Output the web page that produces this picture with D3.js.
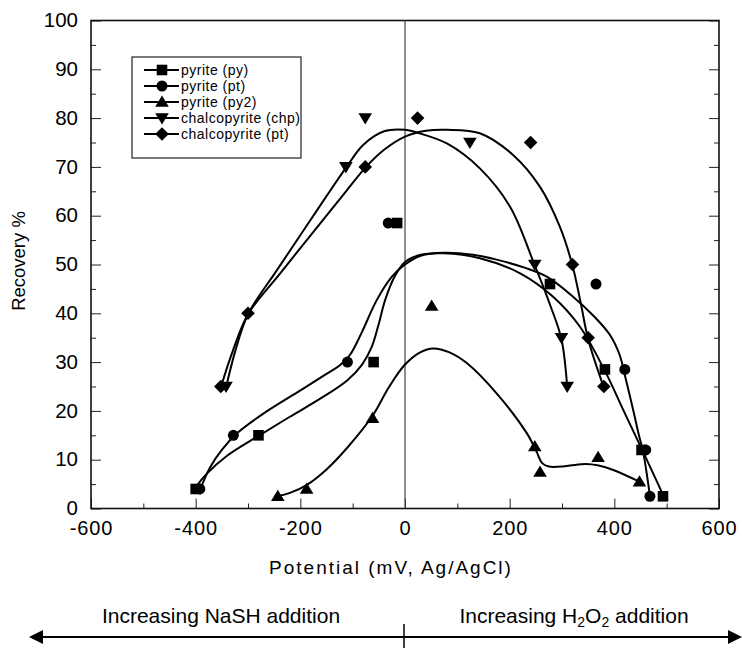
<!DOCTYPE html>
<html>
<head>
<meta charset="utf-8">
<script src="https://cdn.jsdelivr.net/npm/d3@7"></script>
<style>
  body { margin: 0; background: #fff; }
  svg { display: block; font-family: "Liberation Sans", Arial, sans-serif; }
</style>
</head>
<body>
<svg id="chart" width="742" height="648"></svg>
<script>
const X_TICKS = [-600, -400, -200, 0, 200, 400, 600];
const Y_TICKS = [0, 10, 20, 30, 40, 50, 60, 70, 80, 90, 100];

const LEGEND_LABELS = ['pyrite (py)', 'pyrite (pt)', 'pyrite (py2)', 'chalcopyrite (chp)', 'chalcopyrite (pt)'];
const SHAPES = ['square', 'circle', 'up', 'down', 'diamond'];

// measured points
const pyPts = [[-400, 4], [-280, 15], [-60, 30], [-15, 58.5], [277, 46], [382, 28.5], [452, 12], [493, 2.5]];
const ptPts = [[-392, 4], [-328, 15], [-110, 30], [-32, 58.5], [365, 46], [420, 28.5], [460, 12], [468, 2.5]];
const py2Pts = [[-243, 2.5], [-188, 4], [-62, 18.5], [51, 41.5], [248, 12.7], [258, 7.5], [369, 10.5], [448, 5.5]];
const chpPts = [[-342, 25], [-113, 70], [-76, 80], [124, 75], [248, 50], [299, 35], [310, 25]];
const cptPts = [[-352, 25], [-300, 40], [-76, 70], [24, 80], [240, 75], [320, 50], [350, 35], [380, 25]];

// smoothed curves
const pyFit = [[-404, 3.8], [-380, 7], [-340, 10.8], [-278, 15], [-220, 18.8], [-162, 22.5], [-110, 26.3], [-82, 29.5], [-64, 33], [-51, 37.5], [-38, 42.7], [-20, 47.5], [0, 50.5], [30, 52], [73, 52.3], [143, 51.3], [220, 48.2], [283, 43.4], [334, 37.3], [382, 28.2], [417, 20.2], [455, 11.6], [494, 2.6]];
const ptFit = [[-392, 3.8], [-372, 8.5], [-350, 12], [-320, 15.5], [-270, 19.5], [-200, 24.2], [-150, 27.6], [-125, 29.3], [-105, 31.5], [-83, 36], [-54, 42.7], [-25, 47.5], [0, 50], [30, 51.8], [73, 52.4], [130, 52], [175, 51], [230, 49.3], [271, 47.5], [320, 43.5], [360, 39.5], [392, 35.5], [410, 31.5], [422, 26.5], [436, 20.2], [447, 15], [455, 11.6], [468, 2.6]];
const py2Fit = [[-250, 2.4], [-220, 3.2], [-188, 4.8], [-150, 8], [-110, 12.5], [-62, 19], [-30, 25], [0, 29.5], [29, 32], [54, 32.8], [85, 32], [118, 29.8], [175, 23.6], [233, 15.4], [252, 11.5], [262, 9.3], [275, 8.6], [309, 8.7], [345, 9.1], [370, 8.8], [398, 7.9], [448, 5.5]];
const chpFit = [[-342, 24.8], [-325, 32], [-300, 39.8], [-245, 48.8], [-195, 56.8], [-150, 64], [-113, 69.8], [-80, 74.5], [-40, 77.3], [0, 77.6], [24, 77], [80, 74.8], [143, 69.7], [201, 61.8], [248, 49.8], [278, 41.5], [299, 34.7], [310, 24.8]];
const cptFit = [[-352, 24.8], [-330, 32], [-300, 39.8], [-240, 48], [-180, 56], [-120, 64], [-76, 69.8], [-40, 73.5], [0, 76.2], [40, 77.4], [80, 77.6], [143, 76.9], [207, 72.4], [258, 65.9], [296, 57.7], [320, 49.8], [336, 42], [350, 34.7], [380, 24.8]];

const SERIES = [
  { pts: pyPts, fit: pyFit, shape: 'square' },
  { pts: ptPts, fit: ptFit, shape: 'circle' },
  { pts: py2Pts, fit: py2Fit, shape: 'up' },
  { pts: chpPts, fit: chpFit, shape: 'down' },
  { pts: cptPts, fit: cptFit, shape: 'diamond' }
];

const LEFT = 91, RIGHT = 719, TOP = 20.5, BOTTOM = 508.5;

const svg = d3.select('#chart');

const x = d3.scaleLinear().domain([-600, 600]).range([LEFT, RIGHT]);
const y = d3.scaleLinear().domain([0, 100]).range([BOTTOM, TOP]);

function markerPath(shape) {
  if (shape === 'square') return 'M-5.3,-5.3H5.3V5.3H-5.3Z';
  if (shape === 'circle') return 'M-5.5,0A5.5,5.5 0 1,0 5.5,0A5.5,5.5 0 1,0 -5.5,0Z';
  if (shape === 'up') return 'M0,-6.5L6.8,4.8L-6.8,4.8Z';
  if (shape === 'down') return 'M0,6.5L6.8,-4.8L-6.8,-4.8Z';
  return 'M0,-6.8L6.8,0L0,6.8L-6.8,0Z';
}

// minor ticks
svg.append('g')
  .attr('transform', `translate(0,${BOTTOM})`)
  .call(d3.axisBottom(x).tickValues(d3.range(-500, 600, 200)).tickSize(-5).tickFormat(''))
  .call(g => g.select('.domain').remove());
svg.append('g')
  .attr('transform', `translate(${LEFT},0)`)
  .call(d3.axisLeft(y).tickValues(d3.range(5, 100, 10)).tickSize(-5).tickFormat(''))
  .call(g => g.select('.domain').remove());
svg.append('g')
  .attr('transform', `translate(${RIGHT},0)`)
  .call(d3.axisRight(y).tickValues(d3.range(5, 100, 10)).tickSize(-5).tickFormat(''))
  .call(g => g.select('.domain').remove());

// major ticks
svg.append('g')
  .attr('class', 'x-axis')
  .attr('transform', `translate(0,${BOTTOM})`)
  .call(d3.axisBottom(x).tickValues(X_TICKS).tickSize(-10).tickPadding(12).tickFormat(d => String(d)))
  .call(g => g.select('.domain').remove());
svg.append('g')
  .attr('class', 'y-axis')
  .attr('transform', `translate(${LEFT},0)`)
  .call(d3.axisLeft(y).tickValues(Y_TICKS).tickSize(-10).tickPadding(13).tickFormat(d => String(d)))
  .call(g => g.select('.domain').remove());
svg.append('g')
  .attr('transform', `translate(${RIGHT},0)`)
  .call(d3.axisRight(y).tickValues(Y_TICKS).tickSize(-10).tickFormat(''))
  .call(g => g.select('.domain').remove());

svg.selectAll('.tick line').attr('stroke', '#222').attr('stroke-width', 1);
svg.selectAll('.x-axis text')
  .attr('font-size', 20)
  .attr('letter-spacing', 0.9);
svg.selectAll('.y-axis text')
  .attr('font-size', 20.5)
  .attr('dy', '0.3em');
svg.selectAll('.x-axis text, .y-axis text')
  .attr('fill', '#000')
  .style('font-family', '"Liberation Sans", Arial, sans-serif');

// frame
svg.append('rect')
  .attr('x', LEFT).attr('y', TOP)
  .attr('width', RIGHT - LEFT).attr('height', BOTTOM - TOP)
  .attr('fill', 'none').attr('stroke', '#111').attr('stroke-width', 1.6);

// zero line
svg.append('line')
  .attr('x1', x(0)).attr('x2', x(0))
  .attr('y1', y(0)).attr('y2', y(100))
  .attr('stroke', '#444').attr('stroke-width', 1.2);

// curves
const line = d3.line()
  .x(d => x(d[0]))
  .y(d => y(d[1]))
  .curve(d3.curveCatmullRom.alpha(0.5));

svg.selectAll('.fit')
  .data(SERIES)
  .join('path')
  .attr('class', 'fit')
  .attr('d', d => line(d.fit))
  .attr('fill', 'none')
  .attr('stroke', '#000')
  .attr('stroke-width', 2);

// markers
SERIES.forEach(s => {
  svg.selectAll(null)
    .data(s.pts)
    .join('path')
    .attr('d', markerPath(s.shape))
    .attr('transform', d => `translate(${x(d[0])},${y(d[1])})`)
    .attr('fill', '#000');
});

// legend
const legend = svg.append('g');
legend.append('rect')
  .attr('x', 132).attr('y', 57)
  .attr('width', 169).attr('height', 101)
  .attr('fill', '#fff').attr('stroke', '#222').attr('stroke-width', 1.2);

const rows = legend.selectAll('.row')
  .data(LEGEND_LABELS)
  .join('g')
  .attr('transform', (d, i) => `translate(0,${70 + i * 16})`);
rows.append('line')
  .attr('x1', 144).attr('x2', 179)
  .attr('stroke', '#000').attr('stroke-width', 2);
rows.append('path')
  .attr('d', (d, i) => markerPath(SHAPES[i]))
  .attr('transform', 'translate(162,0)')
  .attr('fill', '#000');
rows.append('text')
  .attr('x', 181).attr('y', 5)
  .attr('font-size', 14)
  .attr('letter-spacing', 0.5)
  .text(d => d);

// axis titles
svg.append('text')
  .attr('x', 391).attr('y', 574)
  .attr('text-anchor', 'middle')
  .attr('font-size', 19)
  .attr('letter-spacing', 2)
  .text('Potential (mV, Ag/AgCl)');

svg.append('text')
  .attr('transform', 'translate(25,261) rotate(-90)')
  .attr('text-anchor', 'middle')
  .attr('font-size', 18.5)
  .text('Recovery %');

// bottom annotation
svg.append('text')
  .attr('x', 221).attr('y', 623)
  .attr('text-anchor', 'middle')
  .attr('font-size', 21)
  .text('Increasing NaSH addition');

const h2o2 = svg.append('text')
  .attr('x', 574).attr('y', 623)
  .attr('text-anchor', 'middle')
  .attr('font-size', 21);
h2o2.append('tspan').text('Increasing H');
h2o2.append('tspan').attr('font-size', 14).attr('dy', 4).text('2');
h2o2.append('tspan').attr('dy', -4).text('O');
h2o2.append('tspan').attr('font-size', 14).attr('dy', 4).text('2');
h2o2.append('tspan').attr('dy', -4).text(' addition');

svg.append('line')
  .attr('x1', 40).attr('x2', 731)
  .attr('y1', 637).attr('y2', 637)
  .attr('stroke', '#000').attr('stroke-width', 2);
svg.append('path').attr('d', 'M29,637L43,630L43,644Z').attr('fill', '#000');
svg.append('path').attr('d', 'M742,637L728,630L728,644Z').attr('fill', '#000');
svg.append('line')
  .attr('x1', 404).attr('x2', 404)
  .attr('y1', 624).attr('y2', 648)
  .attr('stroke', '#000').attr('stroke-width', 1.5);
</script>
</body>
</html>
